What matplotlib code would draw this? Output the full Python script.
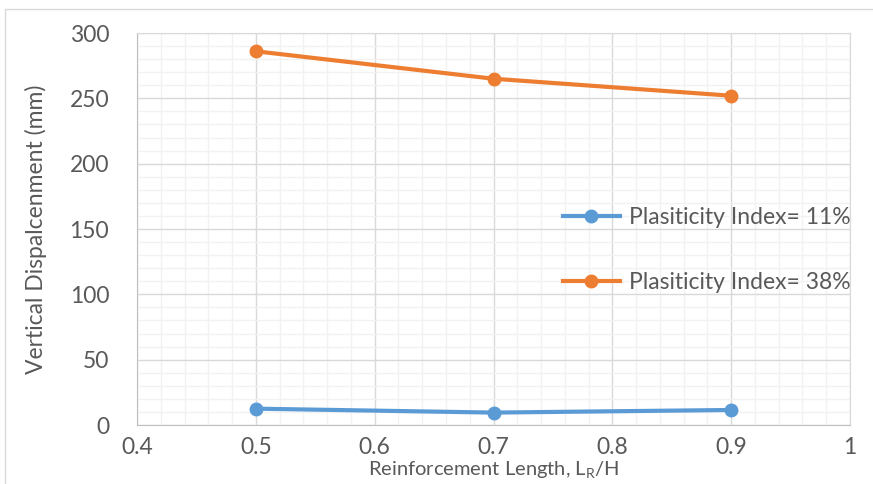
import matplotlib.pyplot as plt
from matplotlib.patches import Rectangle
from matplotlib.ticker import MultipleLocator

plt.rcParams['font.family'] = ['Lato', 'DejaVu Sans']
plt.rcParams['mathtext.fontset'] = 'custom'
plt.rcParams['mathtext.rm'] = 'Lato'
plt.rcParams['mathtext.it'] = 'Lato'

length_ratio = [0.5, 0.7, 0.9]
pi_11 = [12.5, 9.5, 11.5]
pi_38 = [286, 265, 252]
labels = ['Plasiticity Index= 11%', 'Plasiticity Index= 38%']

text_col = '#595959'
fs = 16.5

fig = plt.figure(figsize=(8.73, 4.84), dpi=100)
fig.patches.append(Rectangle((5 / 873, -0.1), 1.2, 1 - 9 / 484 + 0.1, transform=fig.transFigure,
                             fill=False, edgecolor='#D9D9D9', lw=1))
ax = fig.add_axes([137 / 873, 1 - 425 / 484, (850 - 137) / 873, (425 - 33) / 484])

ax.plot(length_ratio, pi_11, color='#5B9BD5', lw=3, marker='o', ms=9, label=labels[0], zorder=3)
ax.plot(length_ratio, pi_38, color='#ED7D31', lw=3, marker='o', ms=9, label=labels[1], zorder=3)

ax.set_xlim(0.4, 1.0)
ax.set_ylim(0, 300)
ax.xaxis.set_minor_locator(MultipleLocator(0.02))
ax.yaxis.set_major_locator(MultipleLocator(50))
ax.yaxis.set_minor_locator(MultipleLocator(10))
ax.set_xticks([0.4, 0.5, 0.6, 0.7, 0.8, 0.9, 1.0])
ax.set_xticklabels(['0.4', '0.5', '0.6', '0.7', '0.8', '0.9', '1'])

ax.grid(which='major', color='#D9D9D9', lw=1)
ax.grid(which='minor', color='#F2F2F2', lw=1)
ax.set_axisbelow(True)
for s in ax.spines.values():
    s.set_color('#D9D9D9')
ax.spines['bottom'].set_color('#BFBFBF')
ax.spines['left'].set_color('#BFBFBF')

ax.tick_params(which='both', length=0, colors=text_col, labelsize=fs)
ax.tick_params(axis='y', pad=20)
ax.tick_params(axis='x', pad=9)

ax.set_ylabel('Vertical Dispalcenment (mm)', fontsize=fs, color=text_col, labelpad=16)
ax.set_xlabel('Reinforcement Length, L$_R$/H', fontsize=14.5, color=text_col, labelpad=0)

leg = ax.legend(loc='center left', bbox_to_anchor=(542 / 873, 1 - 250 / 484),
                bbox_transform=fig.transFigure, frameon=False, fontsize=fs,
                labelspacing=1.9, handlelength=2.5, handletextpad=0.4, labelcolor=text_col)

fig.savefig('out.png', dpi=100)
